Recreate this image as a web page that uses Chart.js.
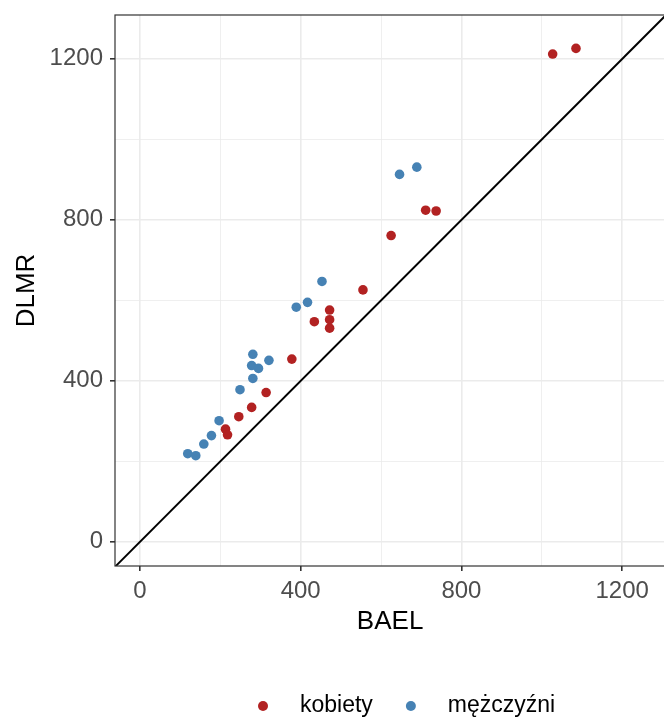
<!DOCTYPE html>
<html>
<head>
<meta charset="utf-8">
<script src="https://cdn.jsdelivr.net/npm/chart.js@4"></script>
<style>
  html, body { margin: 0; padding: 0; background: #fff; overflow: hidden; }
  #wrap { width: 664px; height: 719px; overflow: hidden; }
</style>
</head>
<body>
<div id="wrap"><canvas id="chart" width="670" height="719"></canvas></div>
<script>
// BAEL (x) vs DLMR (y)
const kobietyBael = [1027, 1085, 711, 737, 625, 555, 472, 434, 472, 472, 378, 314, 278, 246, 213, 218];
const kobietyDlmr = [1212, 1226, 824, 822, 761, 626, 576, 547, 552, 531, 454, 371, 334, 311, 280, 266];
const mezczyzniBael = [646, 689, 453, 389, 417, 281, 278, 295, 321, 281, 249, 197, 178, 159, 119, 139];
const mezczyzniDlmr = [913, 931, 647, 583, 595, 466, 438, 431, 451, 406, 378, 301, 264, 243, 219, 214];
const xRange = [-62, 1307];
const yRange = [-60, 1309];
const tickValues = [0, 200, 400, 600, 800, 1000, 1200];
const seriesNames = ['kobiety', 'mężczyźni'];
const seriesColors = ['#B22222', '#4682B4'];

const toPoints = (xs, ys) => xs.map((x, i) => ({ x: x, y: ys[i] }));

const FONT = 'Liberation Sans, Arial, sans-serif';
const isMajor = v => v % 400 === 0;

// panel border like theme_bw
const panelBorder = {
  id: 'panelBorder',
  afterDraw(chart) {
    const { ctx, chartArea: a } = chart;
    ctx.save();
    ctx.strokeStyle = '#333333';
    ctx.lineWidth = 1.2;
    ctx.strokeRect(a.left, a.top, a.right - a.left, a.bottom - a.top);
    ctx.restore();
  }
};

// ggplot-style legend under the plot: dot, wide gap, label
const bottomLegend = {
  id: 'bottomLegend',
  afterDraw(chart) {
    const { ctx } = chart;
    const y = 706;
    let x = 263;
    ctx.save();
    ctx.font = '23px ' + FONT;
    ctx.textBaseline = 'middle';
    chart.data.datasets.slice(1).forEach(ds => {
      ctx.beginPath();
      ctx.fillStyle = ds.backgroundColor;
      ctx.arc(x, y, 5, 0, Math.PI * 2);
      ctx.fill();
      ctx.fillStyle = '#000000';
      ctx.fillText(ds.label, x + 37, y);
      x += 37 + ctx.measureText(ds.label).width + 38;
    });
    ctx.restore();
  }
};

const scaleOpts = (title, axis, range) => ({
  type: 'linear',
  min: range[0],
  max: range[1],
  afterBuildTicks: s => { s.ticks = tickValues.map(v => ({ value: v })); },
  afterFit: s => {
    // labels never sit on the panel edge, so no overflow padding
    s.paddingTop = 0;
    s.paddingBottom = 0;
    s.paddingLeft = 0;
    s.paddingRight = 0;
    if (axis === 'x') s.height = 126;
    else s.width = 115;
  },
  ticks: {
    autoSkip: false,
    color: '#4D4D4D',
    font: { family: FONT, size: 24 },
    padding: axis === 'x' ? 6 : 7,
    callback: v => isMajor(v) ? String(v) : ''
  },
  grid: {
    color: '#EBEBEB',
    lineWidth: c => isMajor(c.tick.value) ? 1.6 : 0.8,
    tickLength: 5,
    tickColor: c => isMajor(c.tick.value) ? '#333333' : 'rgba(0,0,0,0)',
    tickWidth: 1.6
  },
  border: { display: false },
  title: {
    display: true,
    text: title,
    color: '#000000',
    font: { family: FONT, size: 26 },
    padding: axis === 'x' ? { top: 4, bottom: 55 } : { top: 11, bottom: 4 }
  }
});

const ctx = document.querySelector('#chart').getContext('2d');
const chart = new Chart(ctx, {
  type: 'scatter',
  data: {
    datasets: [
      {
        type: 'line',
        label: 'y=x',
        data: [{ x: -100, y: -100 }, { x: 1400, y: 1400 }],
        borderColor: '#000000',
        borderWidth: 2,
        pointRadius: 0,
        fill: false,
        order: 3
      },
      {
        label: seriesNames[0],
        data: toPoints(kobietyBael, kobietyDlmr),
        backgroundColor: seriesColors[0],
        borderColor: seriesColors[0],
        pointRadius: 4.8,
        borderWidth: 0,
        order: 1
      },
      {
        label: seriesNames[1],
        data: toPoints(mezczyzniBael, mezczyzniDlmr),
        backgroundColor: seriesColors[1],
        borderColor: seriesColors[1],
        pointRadius: 4.8,
        borderWidth: 0,
        order: 2
      }
    ]
  },
  options: {
    responsive: false,
    animation: false,
    layout: { padding: { top: 15, right: 0, bottom: 27, left: 0 } },
    scales: {
      x: scaleOpts('BAEL', 'x', xRange),
      y: scaleOpts('DLMR', 'y', yRange)
    },
    plugins: {
      tooltip: { enabled: false },
      legend: { display: false }
    }
  },
  plugins: [panelBorder, bottomLegend]
});
</script>
</body>
</html>
